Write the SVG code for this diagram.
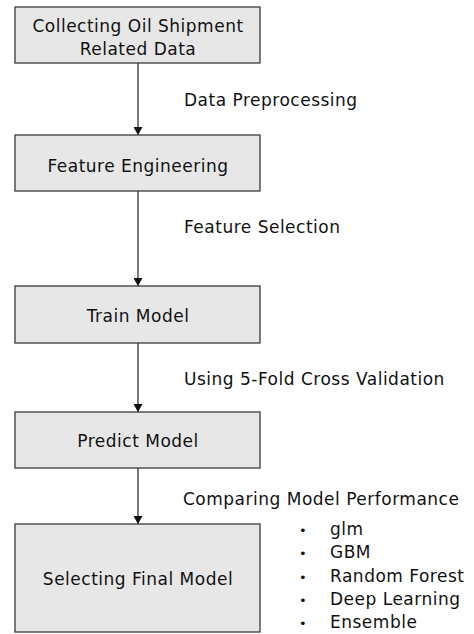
<svg xmlns="http://www.w3.org/2000/svg" width="474" height="634" viewBox="0 0 474 634">
<style>
.box{fill:#e7e7e7;stroke:#3a3a3a;stroke-width:1.3}
text{font-family:"DejaVu Sans","Noto Sans",sans-serif;font-size:17px;letter-spacing:0.5px;fill:#111}
.c{text-anchor:middle}
.edge{stroke:#222;stroke-width:1.2;fill:none}
.b{font-size:13px}
</style>
<defs>
<marker id="ah" viewBox="0 0 8 9" refX="8" refY="4.5" markerWidth="8" markerHeight="9" markerUnits="userSpaceOnUse" orient="auto">
<path d="M0,0 L8,4.5 L0,9 Z" fill="#111"/>
</marker>
</defs>
<rect width="474" height="634" fill="#fff"/>
<g id="connectors">
<line class="edge" x1="138" y1="63" x2="138" y2="135" marker-end="url(#ah)"/>
<line class="edge" x1="138" y1="191" x2="138" y2="286" marker-end="url(#ah)"/>
<line class="edge" x1="138" y1="343" x2="138" y2="412" marker-end="url(#ah)"/>
<line class="edge" x1="138" y1="468" x2="138" y2="524" marker-end="url(#ah)"/>
<text x="184" y="106">Data Preprocessing</text>
<text x="184" y="233">Feature Selection</text>
<text x="184" y="385">Using 5-Fold Cross Validation</text>
<text x="183" y="505">Comparing Model Performance</text>
</g>
<g id="n1"><rect class="box" x="15" y="7" width="245" height="56"/>
<text class="c" x="138" y="32">Collecting Oil Shipment</text>
<text class="c" x="138" y="55">Related Data</text></g>
<g id="n2"><rect class="box" x="15" y="135" width="245" height="56"/>
<text class="c" x="138" y="172">Feature Engineering</text></g>
<g id="n3"><rect class="box" x="15" y="286" width="245" height="57"/>
<text class="c" x="138" y="322">Train Model</text></g>
<g id="n4"><rect class="box" x="15" y="412" width="245" height="56"/>
<text class="c" x="138" y="447">Predict Model</text></g>
<g id="n5"><rect class="box" x="15" y="524" width="245" height="108"/>
<text class="c" x="138" y="585">Selecting Final Model</text></g>
<g id="list">
<text class="b" x="299" y="535">•</text><text x="330" y="535">glm</text>
<text class="b" x="299" y="558">•</text><text x="330" y="558">GBM</text>
<text class="b" x="299" y="582">•</text><text x="330" y="582">Random Forest</text>
<text class="b" x="299" y="605">•</text><text x="330" y="605">Deep Learning</text>
<text class="b" x="299" y="628">•</text><text x="330" y="628">Ensemble</text>
</g>
</svg>
